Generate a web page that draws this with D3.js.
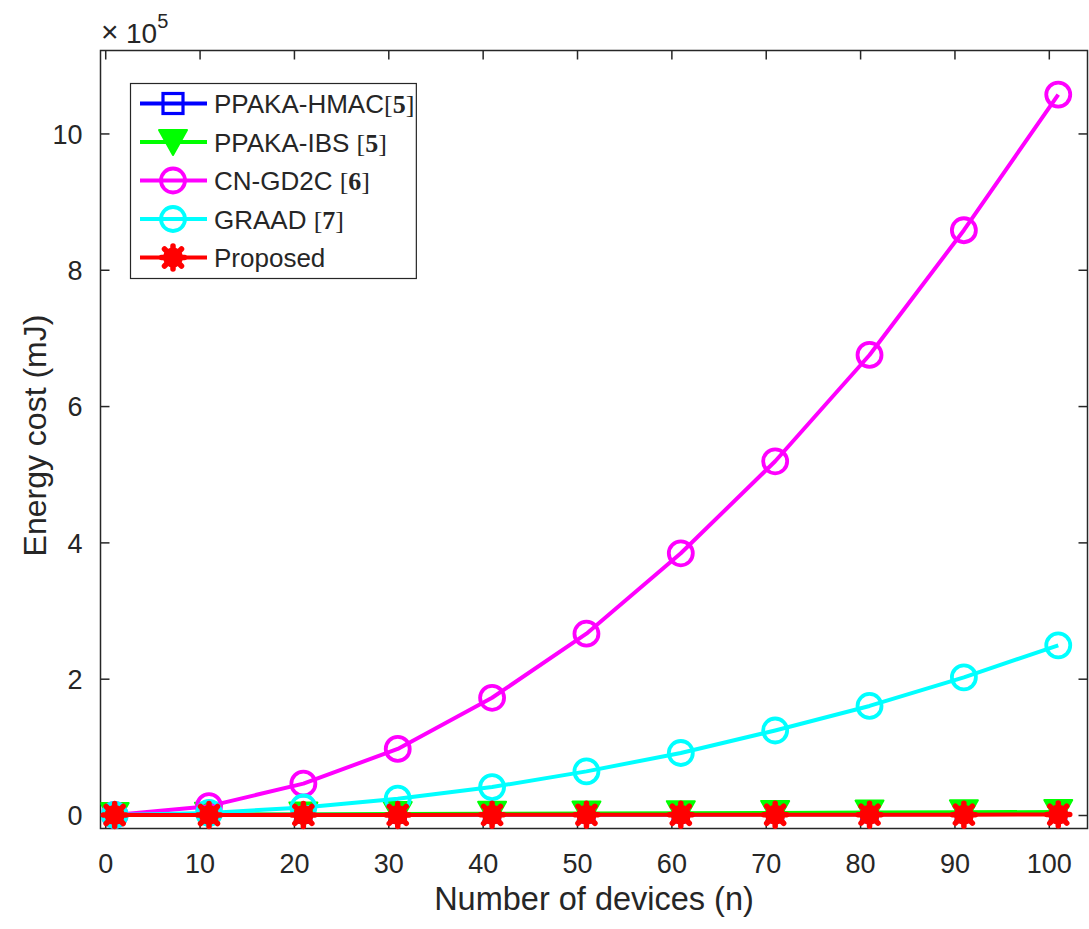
<!DOCTYPE html>
<html>
<head>
<meta charset="utf-8">
<script src="https://cdn.jsdelivr.net/npm/d3@7"></script>
<style>
  html, body { margin: 0; padding: 0; background: #ffffff; }
  svg { display: block; }
  text { font-family: "Liberation Sans", Arial, sans-serif; fill: #262626; }
</style>
</head>
<body>
<svg id="chart" width="1089" height="929"></svg>
<script>
// Number of devices on the x axis
const devices = [1, 11, 21, 31, 41, 51, 61, 71, 81, 91, 101];

// Energy cost (mJ) per scheme
const hmacCost     = [0, 140, 290, 430, 580, 720, 870, 1010, 1160, 1300, 1450];
const ibsCost      = [0, 400, 900, 1300, 1800, 2200, 2700, 3100, 3500, 4000, 4400];
const cnGd2cCost   = [0, 13000, 46000, 97000, 172000, 266000, 384000, 519000, 675000, 858000, 1057000];
const graadCost    = [0, 3000, 11000, 24000, 41000, 64000, 91000, 124000, 160000, 202000, 249000];
const proposedCost = [0, 60, 120, 180, 240, 300, 360, 420, 480, 540, 600];

// Legend names and bracketed references
const seriesNames = ["PPAKA-HMAC", "PPAKA-IBS ", "CN-GD2C ", "GRAAD ", "Proposed"];
const seriesRefs  = ["5", "5", "6", "7", ""];

// Axis ticks
const xTicks = [0, 10, 20, 30, 40, 50, 60, 70, 80, 90, 100];
const yTicks = [0, 200000, 400000, 600000, 800000, 1000000];

const series = [
  { name: seriesNames[0], ref: seriesRefs[0], values: hmacCost,     color: "#0000ff", marker: "square" },
  { name: seriesNames[1], ref: seriesRefs[1], values: ibsCost,      color: "#00ff00", marker: "triangle" },
  { name: seriesNames[2], ref: seriesRefs[2], values: cnGd2cCost,   color: "#ff00ff", marker: "circle" },
  { name: seriesNames[3], ref: seriesRefs[3], values: graadCost,    color: "#00ffff", marker: "circle" },
  { name: seriesNames[4], ref: seriesRefs[4], values: proposedCost, color: "#ff0000", marker: "asterisk" }
];

const svg = d3.select("#chart");
const plot = { left: 100.5, right: 1087.5, top: 50.5, bottom: 828.5 };

const x = d3.scaleLinear().domain([-0.5, 104.1]).range([plot.left, plot.right]);
const y = d3.scaleLinear().domain([-19800, 1121700]).range([plot.bottom, plot.top]);

const axisColor = "#262626";
const tickLen = 9;

// plot background
svg.append("rect")
  .attr("x", plot.left).attr("y", plot.top)
  .attr("width", plot.right - plot.left).attr("height", plot.bottom - plot.top)
  .attr("fill", "#ffffff");

// clipping for the data area
svg.append("defs").append("clipPath").attr("id", "plotClip")
  .append("rect")
  .attr("x", plot.left).attr("y", plot.top - 20)
  .attr("width", plot.right - plot.left + 10).attr("height", plot.bottom - plot.top + 40);

// axes with inward ticks on all four sides
const fmtY = d => String(d / 100000);
const bottomAxis = d3.axisBottom(x).tickValues(xTicks).tickSize(-tickLen).tickPadding(25).tickFormat(d3.format("d"));
const topAxis    = d3.axisTop(x).tickValues(xTicks).tickSize(-tickLen).tickFormat("");
const leftAxis   = d3.axisLeft(y).tickValues(yTicks).tickSize(-tickLen).tickPadding(18).tickFormat(fmtY);
const rightAxis  = d3.axisRight(y).tickValues(yTicks).tickSize(-tickLen).tickFormat("");

function styleAxis(g) {
  g.select(".domain").remove();
  g.selectAll(".tick line").attr("stroke", axisColor).attr("stroke-width", 1.5);
  g.selectAll(".tick text")
    .attr("fill", axisColor)
    .style("font-family", "'Liberation Sans', Arial, sans-serif")
    .style("font-size", "27px");
}

svg.append("g").attr("transform", `translate(0,${plot.bottom})`).call(bottomAxis).call(styleAxis);
svg.append("g").attr("transform", `translate(0,${plot.top})`).call(topAxis).call(styleAxis);
svg.append("g").attr("transform", `translate(${plot.left},0)`).call(leftAxis).call(styleAxis)
  .selectAll(".tick text").attr("dy", "0.36em");
svg.append("g").attr("transform", `translate(${plot.right},0)`).call(rightAxis).call(styleAxis);

// box outline
svg.append("rect")
  .attr("x", plot.left).attr("y", plot.top)
  .attr("width", plot.right - plot.left).attr("height", plot.bottom - plot.top)
  .attr("fill", "none").attr("stroke", axisColor).attr("stroke-width", 1.5);

// markers; squares are drawn a little smaller inside the plot
function drawMarker(g, type, color, squareHalf = 9) {
  if (type === "circle") {
    g.append("circle").attr("r", 12).attr("fill", "none")
      .attr("stroke", color).attr("stroke-width", 3.8);
  } else if (type === "square") {
    g.append("rect").attr("x", -squareHalf).attr("y", -squareHalf)
      .attr("width", 2 * squareHalf).attr("height", 2 * squareHalf)
      .attr("fill", "none").attr("stroke", color).attr("stroke-width", 3.2);
  } else if (type === "triangle") {
    g.append("path").attr("d", "M-14,-12L14,-12L0,13Z")
      .attr("fill", color).attr("stroke", color).attr("stroke-width", 2).attr("stroke-linejoin", "round");
  } else if (type === "asterisk") {
    const r = 11.5, d = 8.5;
    g.append("path")
      .attr("d", `M${-r},0L${r},0M0,${-r}L0,${r}M${-d},${-d}L${d},${d}M${-d},${d}L${d},${-d}`)
      .attr("stroke", color).attr("stroke-width", 5.5).attr("stroke-linecap", "round");
    g.append("circle").attr("r", 10).attr("fill", color);
  }
}

const line = d3.line().x((d, i) => x(devices[i])).y(d => y(d));
const dataLayer = svg.append("g").attr("clip-path", "url(#plotClip)");

series.forEach(s => {
  const g = dataLayer.append("g");
  g.append("path").datum(s.values)
    .attr("d", line)
    .attr("fill", "none")
    .attr("stroke", s.color)
    .attr("stroke-width", 4)
    .attr("stroke-linejoin", "round");
  s.values.forEach((v, i) => {
    const m = g.append("g").attr("transform", `translate(${x(devices[i])},${y(v)})`);
    drawMarker(m, s.marker, s.color, 7.5);
  });
});

// exponent label
svg.append("text").attr("x", 101).attr("y", 42).style("font-size", "30px")
  .style("font-weight", "300").text("\u00d7");
const expo = svg.append("text").attr("x", 126).attr("y", 43).style("font-size", "28px");
expo.append("tspan").text("10");
expo.append("tspan").attr("dy", -15).style("font-size", "20px").text("5");

// axis titles
svg.append("text")
  .attr("x", (plot.left + plot.right) / 2).attr("y", 910)
  .attr("text-anchor", "middle")
  .style("font-size", "32.5px")
  .text("Number of devices (n)");

svg.append("text")
  .attr("transform", `translate(46,${(plot.top + plot.bottom) / 2 - 4}) rotate(-90)`)
  .attr("text-anchor", "middle")
  .style("font-size", "32px")
  .text("Energy cost (mJ)");

// legend
const legend = svg.append("g");
const lgX = 130.5, lgY = 83.5, rowH = 38.5;
const legendBox = legend.append("rect")
  .attr("x", lgX).attr("y", lgY).attr("height", 195)
  .attr("fill", "#ffffff").attr("stroke", axisColor).attr("stroke-width", 1.2);

let maxRight = 0;
series.forEach((s, i) => {
  const cy = lgY + 20 + i * rowH;
  const row = legend.append("g");
  row.append("line").attr("x1", 140).attr("x2", 207).attr("y1", cy).attr("y2", cy)
    .attr("stroke", s.color).attr("stroke-width", 4);
  const m = row.append("g").attr("transform", `translate(173,${cy})`);
  drawMarker(m, s.marker, s.color, 10);
  const t = row.append("text").attr("x", 214).attr("y", cy + 9.5).style("font-size", "26px");
  t.append("tspan").text(s.name);
  if (s.ref) {
    t.append("tspan").style("font-family", "'Liberation Serif', 'Times New Roman', serif").text("[");
    t.append("tspan").style("font-family", "'Liberation Serif', 'Times New Roman', serif")
      .style("font-weight", "bold").text(s.ref);
    t.append("tspan").style("font-family", "'Liberation Serif', 'Times New Roman', serif").text("]");
  }
  maxRight = Math.max(maxRight, t.node().getBBox().x + t.node().getBBox().width);
});
legendBox.attr("width", maxRight - lgX + 2);
</script>
</body>
</html>
